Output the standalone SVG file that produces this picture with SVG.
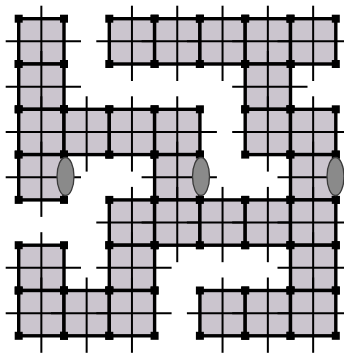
<svg xmlns="http://www.w3.org/2000/svg" xmlns:xlink="http://www.w3.org/1999/xlink" width="344" height="354" viewBox="0 0 344 354">
<style>
.fill{fill:#cbc5ce;stroke:none}
.thin{stroke:#000;stroke-width:2;fill:none}
.thick{stroke:#000;stroke-width:3.4;fill:none}
.sq{fill:#000}
.door{fill:#8a8a8a;stroke:#3a3a3a;stroke-width:1.3}
</style>
<defs>
<g id="cell">
<rect class="fill" x="0" y="0" width="45.3" height="45.3"/>
<line class="thin" x1="-13" y1="22.65" x2="62.3" y2="22.65"/>
<line class="thin" x1="22.65" y1="-13" x2="22.65" y2="62.3"/>
<rect class="thick" x="0" y="0" width="45.3" height="45.3"/>
<rect class="sq" x="-4" y="-4" width="8" height="8"/>
<rect class="sq" x="41.3" y="-4" width="8" height="8"/>
<rect class="sq" x="-4" y="41.3" width="8" height="8"/>
<rect class="sq" x="41.3" y="41.3" width="8" height="8"/>
</g>
</defs>
<g id="cells">
<g id="r0c0"><use xlink:href="#cell" x="18.7" y="18.7"/></g>
<g id="r0c2"><use xlink:href="#cell" x="109.3" y="18.7"/></g>
<g id="r0c3"><use xlink:href="#cell" x="154.6" y="18.7"/></g>
<g id="r0c4"><use xlink:href="#cell" x="199.9" y="18.7"/></g>
<g id="r0c5"><use xlink:href="#cell" x="245.2" y="18.7"/></g>
<g id="r0c6"><use xlink:href="#cell" x="290.5" y="18.7"/></g>
<g id="r1c0"><use xlink:href="#cell" x="18.7" y="64"/></g>
<g id="r1c5"><use xlink:href="#cell" x="245.2" y="64"/></g>
<g id="r2c0"><use xlink:href="#cell" x="18.7" y="109.3"/></g>
<g id="r2c1"><use xlink:href="#cell" x="64" y="109.3"/></g>
<g id="r2c2"><use xlink:href="#cell" x="109.3" y="109.3"/></g>
<g id="r2c3"><use xlink:href="#cell" x="154.6" y="109.3"/></g>
<g id="r2c5"><use xlink:href="#cell" x="245.2" y="109.3"/></g>
<g id="r2c6"><use xlink:href="#cell" x="290.5" y="109.3"/></g>
<g id="r3c0"><use xlink:href="#cell" x="18.7" y="154.6"/></g>
<g id="r3c3"><use xlink:href="#cell" x="154.6" y="154.6"/></g>
<g id="r3c6"><use xlink:href="#cell" x="290.5" y="154.6"/></g>
<g id="r4c2"><use xlink:href="#cell" x="109.3" y="199.9"/></g>
<g id="r4c3"><use xlink:href="#cell" x="154.6" y="199.9"/></g>
<g id="r4c4"><use xlink:href="#cell" x="199.9" y="199.9"/></g>
<g id="r4c5"><use xlink:href="#cell" x="245.2" y="199.9"/></g>
<g id="r4c6"><use xlink:href="#cell" x="290.5" y="199.9"/></g>
<g id="r5c0"><use xlink:href="#cell" x="18.7" y="245.2"/></g>
<g id="r5c2"><use xlink:href="#cell" x="109.3" y="245.2"/></g>
<g id="r5c6"><use xlink:href="#cell" x="290.5" y="245.2"/></g>
<g id="r6c0"><use xlink:href="#cell" x="18.7" y="290.5"/></g>
<g id="r6c1"><use xlink:href="#cell" x="64" y="290.5"/></g>
<g id="r6c2"><use xlink:href="#cell" x="109.3" y="290.5"/></g>
<g id="r6c4"><use xlink:href="#cell" x="199.9" y="290.5"/></g>
<g id="r6c5"><use xlink:href="#cell" x="245.2" y="290.5"/></g>
<g id="r6c6"><use xlink:href="#cell" x="290.5" y="290.5"/></g>
</g>
<g id="doors">
<ellipse class="door" cx="65.5" cy="176.5" rx="8.5" ry="19"/>
<ellipse class="door" cx="201" cy="176.5" rx="8.5" ry="19"/>
<ellipse class="door" cx="335.5" cy="176.5" rx="8.5" ry="19"/>
</g>
</svg>
